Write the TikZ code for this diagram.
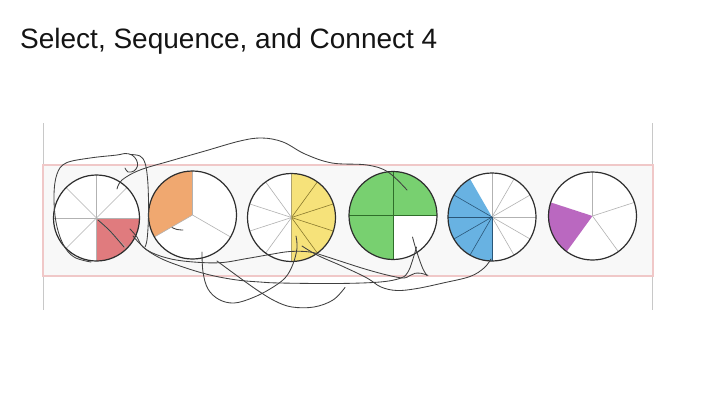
\documentclass[tikz,border=0pt]{standalone}
\usepackage{fontspec}
\setmainfont{Liberation Sans}
\definecolor{bandfill}{HTML}{F8F8F8}
\definecolor{bandline}{HTML}{F0C8C8}
\definecolor{guidecol}{HTML}{C8C8C8}
\definecolor{redfill}{HTML}{E07B7E}
\definecolor{orangefill}{HTML}{F0A870}
\definecolor{yellowfill}{HTML}{F6E27A}
\definecolor{yellowline}{HTML}{8A7A2E}
\definecolor{greenfill}{HTML}{78D070}
\definecolor{greenline}{HTML}{2F6E2A}
\definecolor{bluefill}{HTML}{68B2E2}
\definecolor{blueline}{HTML}{2A5678}
\definecolor{purplefill}{HTML}{BA68C0}
\definecolor{inkcol}{HTML}{404040}
\begin{document}
\begin{tikzpicture}[x=1pt,y=-1pt,
  sector/.style={draw=black!30, line width=0.6pt},
  rim/.style={draw=black!82, line width=1.2pt},
  guide/.style={draw=guidecol, line width=1pt},
  band/.style={draw=bandline, fill=bandfill, line width=1.8pt},
  ink/.style={draw=inkcol, line width=0.85pt, line cap=round, line join=round}]
\useasboundingbox (0,0) rectangle (720,405);
\fill[white] (0,0) rectangle (720,405);
\node[anchor=base west, font=\fontsize{28}{32}\selectfont, inner sep=0pt, text=black!92] (title) at (20,48) {Select, Sequence, and Connect 4};
\draw[guide] (43,123) -- (43,310);
\draw[guide] (652,123) -- (652,310);
\draw[band] (43,165) rectangle (653,276);

% circle 1: eighths, one red
\begin{scope}[shift={(96.5,218)}]
  \fill[white] (0,0) circle[radius=43pt];
  \fill[redfill] (0,0) -- (-90:43pt) arc[start angle=-90,end angle=0,radius=43pt] -- cycle;
  \foreach \a in {0,45,...,315} \draw[sector] (0,0) -- (\a:43pt);
  \draw[rim] (0,0) circle[radius=43pt];
\end{scope}

% circle 2: thirds, one orange
\begin{scope}[shift={(192.5,215)}]
  \fill[white] (0,0) circle[radius=44pt];
  \fill[orangefill] (0,0) -- (90:44pt) arc[start angle=90,end angle=210,radius=44pt] -- cycle;
  \foreach \a in {90,210,330} \draw[sector] (0,0) -- (\a:44pt);
  \draw[rim] (0,0) circle[radius=44pt];
\end{scope}

% circle 3: tenths, five yellow
\begin{scope}[shift={(291.5,217.5)}]
  \fill[white] (0,0) circle[radius=44pt];
  \fill[yellowfill] (0,0) -- (-90:44pt) arc[start angle=-90,end angle=90,radius=44pt] -- cycle;
  \foreach \a in {126,162,198,234} \draw[sector] (0,0) -- (\a:44pt);
  \foreach \a in {54,18,-18,-54} \draw[draw=yellowline, line width=0.6pt] (0,0) -- (\a:44pt);
  \draw[draw=yellowline!70, line width=0.6pt] (0,0) -- (90:44pt);
  \draw[draw=yellowline!70, line width=0.6pt] (0,0) -- (-90:44pt);
  \draw[rim] (0,0) circle[radius=44pt];
\end{scope}

% circle 4: quarters, three green
\begin{scope}[shift={(393,215.5)}]
  \fill[white] (0,0) circle[radius=44pt];
  \fill[greenfill] (0,0) -- (0:44pt) arc[start angle=0,end angle=270,radius=44pt] -- cycle;
  \foreach \a in {0,90,180,270} \draw[draw=greenline, line width=0.7pt] (0,0) -- (\a:44pt);
  \draw[rim] (0,0) circle[radius=44pt];
\end{scope}

% circle 5: twelfths, five blue
\begin{scope}[shift={(492,217)}]
  \fill[white] (0,0) circle[radius=44pt];
  \fill[bluefill] (0,0) -- (120:44pt) arc[start angle=120,end angle=270,radius=44pt] -- cycle;
  \foreach \a in {90,60,30,0,-30,-60} \draw[sector] (0,0) -- (\a:44pt);
  \foreach \a in {150,180,210,240,270} \draw[draw=blueline, line width=0.6pt] (0,0) -- (\a:44pt);
  \draw[rim] (0,0) circle[radius=44pt];
\end{scope}

% circle 6: fifths, one purple
\begin{scope}[shift={(592.5,216)}]
  \fill[white] (0,0) circle[radius=44pt];
  \fill[purplefill] (0,0) -- (162:44pt) arc[start angle=162,end angle=234,radius=44pt] -- cycle;
  \foreach \a in {90,18,-54} \draw[sector] (0,0) -- (\a:44pt);
  \draw[rim] (0,0) circle[radius=44pt];
\end{scope}

% hand-drawn connecting strokes
\draw[ink] plot[smooth, tension=0.6] coordinates {(117,189) (122,180) (140,170) (170,161) (205,151) (240,141) (262,138) (283,142) (305,154) (332,163) (367,165) (388,172) (407,190)};
\draw[ink] plot[smooth, tension=0.6] coordinates {(91,262) (74,257) (63,244) (56,222) (54,195) (57,174) (66,163) (90,158) (117,155) (125,153.5) (132,155) (136.5,160) (137.5,166) (134,171) (128,172) (125,168)};
\draw[ink] plot[smooth, tension=0.6] coordinates {(130,154.5) (140,156) (145,163) (147.5,178) (148.5,200) (148.3,222) (147,240) (145,247)};
\draw[ink] plot[smooth, tension=0.6] coordinates {(130,229) (137,237) (143,247) (160,258) (183,267) (210,275) (237,280) (260,282) (280,283) (337,283.5) (380,282) (401,278) (408,272) (412,262) (416.5,247)};
\draw[ink] plot[smooth, tension=0.6] coordinates {(133,236) (147,250) (167,258) (190,261.7) (220,262.7) (247,258.5) (270,254.5) (290,251.5) (310,252) (326,256.5) (343,262) (365,269) (387,275) (403,278) (410,275.5) (415,273.3) (421,273.3) (428,275.3)};
\draw[ink] plot[smooth, tension=0.6] coordinates {(412.5,237) (415,246) (418.5,257) (423,269) (427,275.5)};
\draw[ink] plot[smooth, tension=0.6] coordinates {(202,252) (203,272) (208,289) (219,299.5) (234,303) (252,298) (270,289) (285,278) (293,264) (297,248) (296,236)};
\draw[ink] plot[smooth, tension=0.6] coordinates {(217,261) (236,275) (257,290) (275,301) (292,307) (314,307) (333,300) (345,287.5)};
\draw[ink] plot[smooth, tension=0.6] coordinates {(302,246) (318,255.5) (343,266.5) (367,278) (381,287) (397,290.5) (417,288.5) (443,283) (470,276.5) (484,268) (491,259)};
\draw[ink] plot[smooth, tension=0.6] coordinates {(98,220) (110,231) (124,247)};
\draw[ink] plot[smooth, tension=0.6] coordinates {(172,227.5) (177,229.5) (183,230)};
\end{tikzpicture}
\end{document}
